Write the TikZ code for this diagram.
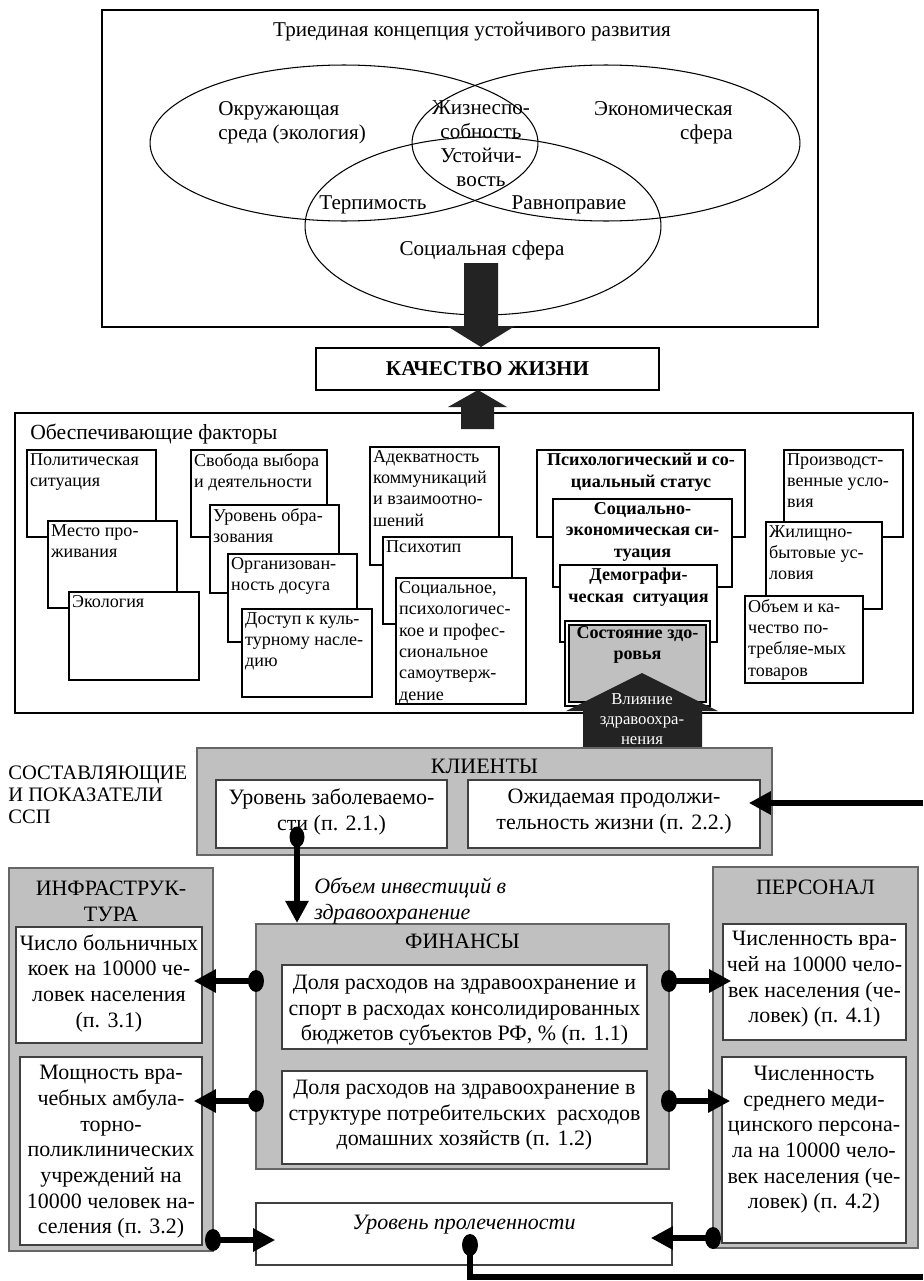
\documentclass[tikz,border=0pt]{standalone}
\usepackage{fontspec}
\setmainfont{Liberation Serif}
\usetikzlibrary{arrows.meta, fit}
\definecolor{grayfill}{RGB}{192,192,192}
\definecolor{blockfill}{RGB}{35,35,35}
\newcommand\vennfont{\fontsize{12}{13.6}\selectfont}
\newcommand\factfont{\fontsize{10.3}{12.2}\selectfont}
\newcommand\ssfont{\fontsize{12.5}{14.6}\selectfont}
\begin{document}
\begin{tikzpicture}[x=0.02cm, y=-0.02cm,
  frame/.style={draw, line width=0.9pt, inner sep=0pt},
  fact/.style={draw, fill=white, line width=0.8pt, inner sep=0pt},
  gbox/.style={draw=black!60, fill=grayfill, line width=1.2pt, inner sep=0pt},
  wbox/.style={draw=black!75, fill=white, line width=0.9pt, inner sep=0pt},
  venn/.style={font=\vennfont, inner sep=0pt},
  tl/.style={anchor=north west, align=left, inner sep=2pt, font=\factfont},
  tb/.style={anchor=north, align=center, inner sep=2pt, font=\factfont\bfseries},
  tc/.style={anchor=north, align=center, inner sep=2.5pt, font=\ssfont},
  link/.style={line width=3.4pt, -{Triangle[length=0.44cm, width=0.44cm]}},
  dot/.style={fill=black}]
\useasboundingbox (0,0) rectangle (923,1281);

% triune concept
\node[frame, fit={(102,10)(818,327)}] (concept) {};
\node[venn] (title) at (472,32) {Триединая концепция устойчивого развития};
\draw[line width=0.6pt] (344,143) ellipse [x radius=3.88cm, y radius=1.56cm];
\draw[line width=0.6pt] (606,143) ellipse [x radius=3.88cm, y radius=1.56cm];
\draw[line width=0.6pt] (483,226) ellipse [x radius=3.56cm, y radius=1.78cm];
\node[venn, align=left, anchor=west] (env) at (218,123) {Окружающая\\среда (экология)};
\node[venn, align=center] (vital) at (481,120) {Жизнеспо-\\собность};
\node[venn, align=center] (stab) at (481,167) {Устойчи-\\вость};
\node[venn, align=right, anchor=east] (econ) at (733,123) {Экономическая\\сфера};
\node[venn] (toler) at (373,205) {Терпимость};
\node[venn] (equal) at (569,205) {Равноправие};
\node[venn] (social) at (482,250) {Социальная сфера};
\fill[blockfill] (464,263) -- (498,263) -- (498,326) -- (515,326) -- (481,347)
  -- (447,326) -- (464,326) -- cycle;

\node[wbox, draw=black, fit={(316,348)(659,390)}] (quality) {};
\node[font=\fontsize{12}{14}\selectfont\bfseries] (qtext) at (quality) {КАЧЕСТВО ЖИЗНИ};

% supporting factors
\node[frame, fit={(15,413)(913,713)}] (factors) {};
\fill[blockfill] (461,429) -- (461,407) -- (448,407) -- (478,390) -- (507,407)
  -- (494,407) -- (494,429) -- cycle;
\node[anchor=west, inner sep=0pt, font=\fontsize{12.3}{14}\selectfont] (facttitle) at (30,434) {Обеспечивающие факторы};

\node[fact, fit={(27,450)(156,537)}, label={[tl, name=polit-t]north west:Политическая\\ситуация}] (polit) {};
\node[fact, fit={(48,521)(177,608)}, label={[tl, name=place-t]north west:Место про-\\живания}] (place) {};
\node[fact, fit={(69,592)(199,680)}, label={[tl, name=ecol-t]north west:Экология}] (ecol) {};

\node[fact, fit={(191,450)(327,537)}, label={[tl, name=free-t]north west:Свобода выбора\\и деятельности}] (free) {};
\node[fact, fit={(210,505)(339,593)}, label={[tl, name=educ-t]north west:Уровень обра-\\зования}] (educ) {};
\node[fact, fit={(228,554)(357,642)}, label={[tl, name=leis-t]north west:Организован-\\ность досуга}] (leis) {};
\node[fact, fit={(242,609)(372,697)}, label={[tl, name=cult-t]north west:Доступ к куль-\\турному насле-\\дию}] (cult) {};

\node[fact, fit={(370,447)(499,565)}, label={[tl, name=comm-t]north west:Адекватность\\коммуникаций\\и взаимоотно-\\шений}] (comm) {};
\node[fact, fit={(383,537)(512,624)}, label={[tl, name=psy-t]north west:Психотип}] (psy) {};
\node[fact, fit={(396,578)(526,704)}, label={[tl, name=self-t]north west:Социальное,\\психологичес-\\кое и профес-\\сиональное\\самоутверж-\\дение}] (self) {};

\node[fact, fit={(537,450)(745,537)}, label={[tb, name=stat-t]north:Психологический и со-\\циальный статус}] (stat) {};
\node[fact, fit={(553,499)(732,587)}, label={[tb, name=soec-t]north:Социально-\\экономическая си-\\туация}] (soec) {};
\node[fact, fit={(560,565)(717,642)}, label={[tb, name=demo-t]north:Демографи-\\ческая\ \ ситуация}] (demo) {};
\node[fact, fill=grayfill, line width=0.7pt, double=white, double distance=1.6pt, fit={(567,623)(708,704)},
  label={[tb, name=health-t]north:Состояние здо-\\ровья}] (health) {};

\node[fact, fit={(784,450)(903,537)}, label={[tl, name=prod-t]north west:Производст-\\венные усло-\\вия}] (prod) {};
\node[fact, fit={(766,522)(882,609)}, label={[tl, name=house-t]north west:Жилищно-\\бытовые ус-\\ловия}] (house) {};
\node[fact, fit={(745,596)(863,683)}, label={[tl, name=goods-t]north west:Объем и ка-\\чество по-\\требляе-мых\\товаров}] (goods) {};

\fill[blockfill] (583,748) -- (583,711) -- (566,711) -- (642,673) -- (718,711)
  -- (702,711) -- (702,748) -- cycle;
\node[align=center, text=white, inner sep=0pt, font=\fontsize{9.5}{11.2}\selectfont] (impact) at (642,719)
  {Влияние\\здравоохра-\\нения};

% balanced scorecard
\node[anchor=west, align=left, inner sep=0pt, font=\fontsize{11.7}{12.6}\selectfont] (bsc) at (8,795)
  {СОСТАВЛЯЮЩИЕ\\И ПОКАЗАТЕЛИ\\ССП};
\node[gbox, fit={(197,748)(772,855)}, label={[tc, yshift=-4.5pt, name=client-t]north:КЛИЕНТЫ}] (client) {};
\node[wbox, fit={(216,780)(447,848)}, label={[tc, yshift=-3pt, name=morb-t]north:Уровень заболеваемо-\\сти (п. 2.1.)}] (morb) {};
\node[wbox, fit={(468,780)(760,848)}, label={[tc, yshift=-3pt, name=life-t]north:Ожидаемая продолжи-\\тельность жизни (п. 2.2.)}] (life) {};

\node[gbox, fit={(9,868)(213,1251)}, label={[tc, yshift=-5.5pt, name=infra-t]north:ИНФРАСТРУК-\\ТУРА}] (infra) {};
\node[wbox, fit={(16,927)(202,1043)}, label={[tc, yshift=-2pt, name=beds-t]north:Число больничных\\коек на 10000 че-\\ловек населения\\(п. 3.1)}] (beds) {};
\node[wbox, fit={(20,1057)(202,1245)}, label={[tc, yshift=-2.5pt, name=amb-t]north:Мощность вра-\\чебных амбула-\\торно-\\поликлинических\\учреждений на\\10000 человек на-\\селения (п. 3.2)}] (amb) {};

\node[gbox, fit={(713,867)(918,1248)}, label={[tc, yshift=-5.5pt, name=staff-t]north:ПЕРСОНАЛ}] (staff) {};
\node[wbox, fit={(723,924)(906,1040)}, label={[tc, yshift=-2pt, name=doct-t]north:Численность вра-\\чей на 10000 чело-\\век населения (че-\\ловек) (п. 4.1)}] (doct) {};
\node[wbox, fit={(722,1057)(906,1243)}, label={[tc, yshift=-3pt, name=nurse-t]north:Численность\\среднего меди-\\цинского персона-\\ла на 10000 чело-\\век населения (че-\\ловек) (п. 4.2)}] (nurse) {};

\node[gbox, fit={(256,924)(669,1169)}, label={[tc, yshift=-3.5pt, name=fin-t]north:ФИНАНСЫ}] (fin) {};
\node[wbox, fit={(282,965)(647,1049)}, label={[tc, yshift=-3.5pt, name=share1-t]north:Доля расходов на здравоохранение и\\спорт в расходах консолидированных\\бюджетов субъектов РФ, \% (п. 1.1)}] (share1) {};
\node[wbox, fit={(282,1071)(647,1164)}, label={[tc, yshift=-3pt, name=share2-t]north:Доля расходов на здравоохранение в\\структуре потребительских\ \ расходов\\домашних хозяйств (п. 1.2)}] (share2) {};
\node[wbox, fit={(256,1203)(672,1265)}, label={[tc, yshift=-4.5pt, font=\ssfont\itshape, name=treat-t]north:Уровень пролеченности}] (treat) {};

\node[anchor=west, align=left, inner sep=0pt, font=\ssfont\itshape] (invest) at (314,901)
  {Объем инвестиций в\\здравоохранение};

% connectors
\coordinate (m1) at (297,837);
\draw[link] (m1) -- (m1 |- fin.north);
\fill[dot] (m1) ellipse [x radius=0.15cm, y radius=0.21cm];
\coordinate (in1) at (923,803);
\draw[link, shorten >=-0.24cm] (in1) -- (in1 -| life.east);

\coordinate (f1) at (256,981);
\coordinate (f2) at (256,1101);
\coordinate (f3) at (669,981);
\coordinate (f4) at (669,1101);
\foreach \c/\t in {f1/beds.east, f2/amb.east, f3/doct.west, f4/nurse.west}{
  \draw[link, shorten >=-0.18cm] (\c) -- (\c -| \t);
  \fill[dot] (\c) ellipse [x radius=0.16cm, y radius=0.22cm];
}
\coordinate (i1) at (213,1240);
\coordinate (s1) at (713,1238);
\draw[link, shorten >=-0.4cm] (i1) -- (i1 -| treat.west);
\draw[link, shorten >=-0.44cm] (s1) -- (s1 -| treat.east);
\fill[dot] (i1) ellipse [x radius=0.16cm, y radius=0.22cm];
\fill[dot] (s1) ellipse [x radius=0.16cm, y radius=0.22cm];
\coordinate (t1) at (470,1245);
\coordinate (out1) at (923,1277);
\draw[line width=3.4pt] (t1) |- (out1);
\fill[dot] (t1) ellipse [x radius=0.16cm, y radius=0.22cm];
\end{tikzpicture}
\end{document}
